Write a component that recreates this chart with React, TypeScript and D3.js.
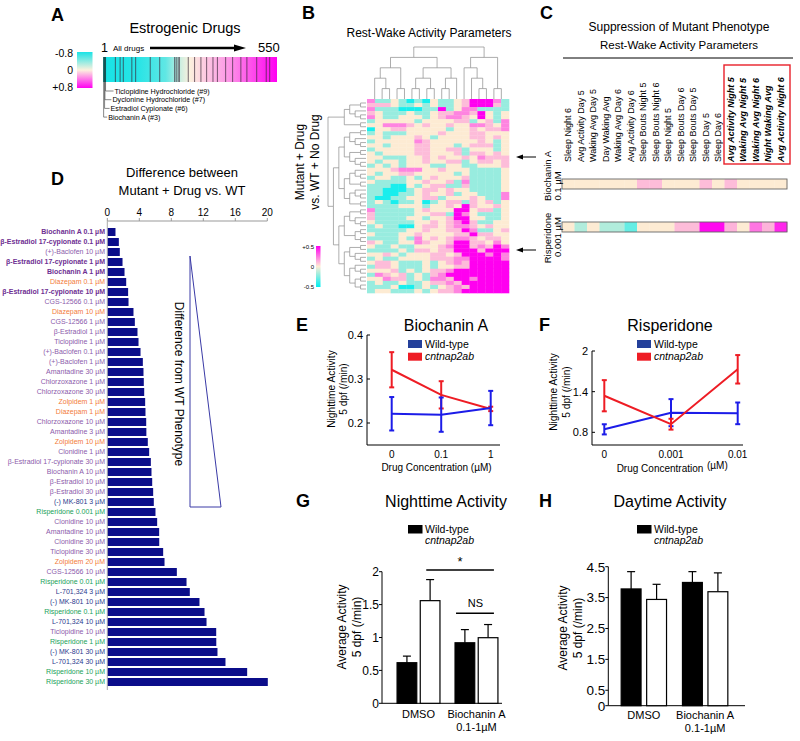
import React from "react";
import * as d3 from "d3";

const FONT = "'Liberation Sans', Arial, Helvetica, sans-serif";

// ---------------- Panel A data ----------------
const drugRanks = [3, 6, 7, 9, 40, 55, 65, 92, 104, 150, 180, 227, 232, 238, 242, 270, 290, 310, 328, 348, 362, 388, 410, 436, 455, 486, 516, 527];
const calloutNames = ["Ticlopidine Hydrochloride (#9)", "Dyclonine Hydrochloride (#7)", "Estradiol Cypionate (#6)", "Biochanin A (#3)"];
const calloutRanks = [9, 7, 6, 3];
const barStops = [0, 0.02, 0.2, 0.36, 0.45, 0.5, 0.58, 0.72, 0.86, 1];
const barStopValues = [-0.6, -0.8, -0.75, -0.55, -0.15, 0, 0.12, 0.3, 0.55, 0.8];

// ---------------- Panel B data ----------------
const heatRows = [
  "Pcc.cCcC.cc.pMMMPc",
  "ppp.cc.c.cc.pMMMpc",
  "PcccCCCccMc.PPcccc",
  "p.ccc.cc.ppPPpM.c.",
  "P.cc...c.pPPp.M.c.",
  "c.....c....ppc.pcP",
  "..PPPp.p..p..PPp.P",
  "C..pp.....c..p.ppP",
  "c.ccc....p...pp...",
  "..c...p.c....pp.p.",
  "c.....Pp......p.c.",
  "..c...pp...c.pppc.",
  "c.....pp..ppc...c.",
  ".c....pp...pcpp.p.",
  "..ccc..p.p..p.Pppp",
  ".c..c..p..ppc.pp.p",
  "c.c.c...cc..cc...p",
  "...pPPP..p...cccc.",
  ".c..pp.....c.cccc.",
  "c..cc.c.p...pcccc.",
  ".cccc..p..pcPcccc.",
  "cccCC.c.ppccpcccc.",
  "ccCCCc.pp.p..cccc.",
  "ccCCcc.p..pc..cccP",
  "cCCcc..ppc...p.ccP",
  "c.cCcc.Cc.ppcp.pc.",
  "cccc...c..p.Mp..p.",
  "Pccccc.p...MM.ppc.",
  "pccccc..ppcMP.ccc.",
  "pcccc..c..pMM..cc.",
  ".ccccc..p.pPMpcc..",
  "c.ccCC.pp.pPPp.p..",
  "ccccc..p..ppMPcc.p",
  ".ccc..p....ppMpp..",
  "cccc.cP.p.pPPp.pp.",
  "p.cc..Pp..pMMpp.P.",
  ".cc.cc...pPMMpPpMP",
  "cccc.cpp.ppMMMpMMM",
  "..p.c...pp.pMMMPMP",
  "c.cc....pppPPMMMMP",
  ".pp.ccc.c.pPpMMMMM",
  "cpp.ccc.c..ppMMMMM",
  "...pc.c.ppPMMMMMMM",
  "cPp.pc.cpPMMMMMMMM",
  "..Pppc.cPPpMMPMMMM",
  "c.cc.cc.ppPpMMMMMM",
  "ccc.CCc.c.pPpMMMMM",
  "c..ccc.c.ppPMMMMMM",
];
const heatLevels: Record<string, number> = { C: -0.45, c: -0.2, ".": 0, p: 0.1, P: 0.22, M: 0.5 };
const colTree = [[[[0, [1, 2]], [3, 4]], [[[5, 6], [7, 8]], [[9, 10], 11]]], [[12, [13, [14, 15]]], [16, 17]]];
const rowTree = [
  [[[0, 1], [2, [3, 4]]], [5, 6]],
  [
    [[[[7, 8], [9, [10, 11]]], [[12, 13], [14, [15, 16]]]], [[[17, [18, 19]], [20, 21]], [[22, [23, 24]], [25, 26]]]],
    [[[[27, 28], [29, [30, 31]]], [[32, 33], [34, 35]]], [[[36, 37], [38, [39, 40]]], [[41, [42, 43]], [[44, 45], [46, 47]]]]],
  ],
];

// ---------------- Panel C data ----------------
const paramLabels = [
  "Sleep Night 6", "Avg Activity Day 5", "Waking Avg Day 5", "Day Waking Avg", "Waking Avg Day 6", "Avg Activity Day 6",
  "Sleep Bouts Night 5", "Sleep Bouts Night 6", "Sleep Night 5", "Sleep Bouts Day 6", "Sleep Bouts Day 5", "Sleep Day 5",
  "Sleep Day 6", "Avg Activity Night 5", "Waking Avg Night 5", "Waking Avg Night 6", "Night Waking Avg", "Avg Activity Night 6",
];
const highlightedParams = 5;
const biochaninStrip = [0, 0, 0, 0, 0, 0, 0.1, 0.1, 0, 0, 0, 0.1, 0, 0.1, 0, 0, 0, 0];
const risperidoneStrip = [0, -0.15, 0, -0.15, -0.15, -0.3, 0, 0, 0, 0.1, 0.1, 0.48, 0.48, 0.12, 0, 0.25, 0.12, 0.42];

// ---------------- Panel D data ----------------
const drugLabels = [
  "Biochanin A 0.1 µM", "β-Estradiol 17-cypionate 0.1 µM", "(+)-Baclofen 10 µM", "β-Estradiol 17-cypionate 1 µM",
  "Biochanin A 1 µM", "Diazepam 0.1 µM", "β-Estradiol 17-cypionate 10 µM", "CGS-12566 0.1 µM", "Diazepam 10 µM",
  "CGS-12566 1 µM", "β-Estradiol 1 µM", "Ticlopidine 1 µM", "(+)-Baclofen 0.1 µM", "(+)-Baclofen 1 µM",
  "Amantadine 30 µM", "Chlorzoxazone 1 µM", "Chlorzoxazone 30 µM", "Zolpidem 1 µM", "Diazepam 1 µM",
  "Chlorzoxazone 10 µM", "Amantadine 3 µM", "Zolpidem 10 µM", "Clonidine 1 µM", "β-Estradiol 17-cypionate 30 µM",
  "Biochanin A 10 µM", "β-Estradiol 10 µM", "β-Estradiol 30 µM", "(-) MK-801 3 µM", "Risperidone 0.001 µM",
  "Clonidine 10 µM", "Amantadine 10 µM", "Clonidine 30 µM", "Ticlopidine 30 µM", "Zolpidem 20 µM",
  "CGS-12566 10 µM", "Risperidone 0.01 µM", "L-701,324 3 µM", "(-) MK-801 10 µM", "Risperidone 0.1 µM",
  "L-701,324 10 µM", "Ticlopidine 10 µM", "Risperidone 1 µM", "(-) MK-801 30 µM", "L-701,324 30 µM",
  "Risperidone 10 µM", "Risperidone 30 µM",
];
const drugValues = [
  0.96, 1.38, 1.5, 1.84, 2.09, 2.3, 2.54, 2.59, 3.21, 3.38, 3.71, 3.84, 4.09, 4.38, 4.46, 4.5, 4.55, 4.67, 4.71,
  4.8, 4.82, 5.0, 5.17, 5.38, 5.46, 5.55, 5.67, 5.75, 5.96, 6.17, 6.42, 6.43, 6.92, 7.09, 8.63, 9.84, 10.25,
  11.46, 12.09, 12.34, 13.55, 13.56, 13.71, 14.71, 17.42, 20.0,
];
const drugGroups = [
  "pb", "pb", "p", "pb", "pb", "o", "pb", "p", "o", "p", "p", "p", "p", "p", "p", "p", "p", "o", "o", "p", "p", "o",
  "p", "p", "p", "p", "p", "b", "g", "p", "p", "p", "p", "o", "p", "g", "b", "b", "g", "b", "p", "g", "b", "b", "g", "g",
];
const dTicks = [0, 4, 8, 12, 16, 20];

// ---------------- Panel E / F data ----------------
const eConc = ["0", "0.1", "1"];
const eWT = [0.221, 0.219, 0.234];
const eWTerr = [0.038, 0.039, 0.039];
const eMut = [0.321, 0.264, 0.232];
const eMutErr = [0.04, 0.031, 0.005];
const eTicks = [0.2, 0.3, 0.4];

const fConc = ["0", "0.001", "0.01"];
const fWT = [0.844, 1.09, 1.08];
const fWTerr = [0.075, 0.2, 0.16];
const fMut = [1.34, 0.92, 1.73];
const fMutErr = [0.23, 0.08, 0.21];
const fTicks = [0.8, 1.4, 2];

// ---------------- Panel G / H data ----------------
const treatments = ["DMSO", "Biochanin A"];
const genotypes = ["Wild-type", "cntnap2ab"];
const gNight = [[0.617, 1.56], [0.92, 0.997]];
const gNightErr = [[0.1, 0.32], [0.2, 0.2]];
const gTicks = [0, 0.5, 1, 1.5, 2];
const hDay = [[3.78, 3.44], [3.99, 3.69]];
const hDayErr = [[0.56, 0.49], [0.35, 0.61]];
const hTicks = [0, 0.5, 1.5, 2.5, 3.5, 4.5];

const purpleBold = "#6e2f92";
const groupColor: Record<string, string> = { pb: purpleBold, p: "#8c5bab", o: "#f37b3a", g: "#22a25a", b: "#2b3a8e" };
const BLUE = "#1c1ce8";
const RED = "#ee1c24";
const LEG_BLUE = "#24409a";

function PanelLabel({ x, y, t }: { x: number; y: number; t: string }) {
  return (
    <text x={x} y={y} fontSize={18} fontWeight="bold" fontFamily={FONT}>
      {t}
    </text>
  );
}

function RotLabel({ x, y, t, size, anchor = "middle", rot = -90, style = {} as any }: any) {
  return (
    <text transform={`translate(${x},${y}) rotate(${rot})`} textAnchor={anchor} dy="0.35em" fontSize={size} fontFamily={FONT} {...style}>
      {t}
    </text>
  );
}

function LinePanel(props: any) {
  const { conc, wt, wtErr, mut, mutErr, ticks, yDomain, yRange, xRange, axisX, axisRight, tickFmt, mutFirst } = props;
  const y = d3.scaleLinear().domain(yDomain).range(yRange);
  const x = d3.scalePoint<string>().domain(conc).range(xRange);
  const line = d3.line<number>().x((_, i) => x(conc[i]) as number).y((d) => y(d));
  const series = [
    { v: wt, e: wtErr, c: BLUE },
    { v: mut, e: mutErr, c: RED },
  ];
  const order = mutFirst ? [series[1], series[0]] : series;
  return (
    <g>
      <line x1={axisX} x2={axisX} y1={y(yDomain[1])} y2={yRange[0]} stroke="#000" strokeWidth={1} />
      <line x1={axisX} x2={axisRight} y1={yRange[0]} y2={yRange[0]} stroke="#000" strokeWidth={1} />
      {ticks.map((t: number) => (
        <g key={t}>
          <line x1={axisX} x2={axisX + 3} y1={y(t)} y2={y(t)} stroke="#000" />
          <text x={axisX - 4} y={y(t)} dy="0.35em" textAnchor="end" fontSize={11} fontFamily={FONT}>
            {tickFmt(t)}
          </text>
        </g>
      ))}
      {conc.map((c: string) => (
        <text key={c} x={x(c)} y={yRange[0] + 13} textAnchor="middle" fontSize={10} fontFamily={FONT}>
          {c}
        </text>
      ))}
      {order.map((s, si) => (
        <g key={si}>
          <path d={line(s.v) as string} fill="none" stroke={s.c} strokeWidth={2} />
          {s.v.map((v: number, i: number) => {
            const cx = x(conc[i]) as number;
            return (
              <g key={i} stroke={s.c} strokeWidth={2}>
                <line x1={cx} x2={cx} y1={y(v - s.e[i])} y2={y(v + s.e[i])} />
                <line x1={cx - 2.5} x2={cx + 2.5} y1={y(v - s.e[i])} y2={y(v - s.e[i])} />
                <line x1={cx - 2.5} x2={cx + 2.5} y1={y(v + s.e[i])} y2={y(v + s.e[i])} />
              </g>
            );
          })}
        </g>
      ))}
    </g>
  );
}

function BarPanel(props: any) {
  const { values, errs, ticks, yDomain, yRange, axisX, axisRight, bandRange, pInner, pOuter, subPad, tickSize, labelY } = props;
  const y = d3.scaleLinear().domain(yDomain).range(yRange);
  const xg = d3.scaleBand<string>().domain(treatments).range(bandRange).paddingInner(pInner).paddingOuter(pOuter);
  const xs = d3.scaleBand<string>().domain(genotypes).range([0, xg.bandwidth()]).paddingInner(subPad);
  return (
    <g>
      <line x1={axisX} x2={axisX} y1={y(yDomain[1])} y2={yRange[0]} stroke="#000" />
      <line x1={axisX} x2={axisRight} y1={yRange[0]} y2={yRange[0]} stroke="#000" />
      {ticks.map((t: number) => (
        <g key={t}>
          <line x1={axisX - 3} x2={axisX} y1={y(t)} y2={y(t)} stroke="#000" />
          <text x={axisX - 3} y={y(t)} dy="0.36em" textAnchor="end" fontSize={tickSize} fontFamily={FONT}>
            {t}
          </text>
        </g>
      ))}
      {treatments.map((tr, ti) =>
        genotypes.map((g, gi) => {
          const bx = (xg(tr) as number) + (xs(g) as number);
          const bw = xs.bandwidth();
          const v = values[ti][gi];
          const e = errs[ti][gi];
          const cx = bx + bw / 2;
          return (
            <g key={tr + g}>
              <line x1={cx} x2={cx} y1={y(v)} y2={y(v + e)} stroke="#000" strokeWidth={1.2} />
              <line x1={cx - 4} x2={cx + 4} y1={y(v + e)} y2={y(v + e)} stroke="#000" strokeWidth={1.2} />
              <rect x={bx} y={y(v)} width={bw} height={yRange[0] - y(v)} fill={gi === 0 ? "#000" : "#fff"} stroke="#000" strokeWidth={1.2} />
            </g>
          );
        })
      )}
      <text x={(xg("DMSO") as number) + xg.bandwidth() / 2} y={labelY} textAnchor="middle" fontSize={11} fontFamily={FONT}>
        DMSO
      </text>
      <text x={(xg("Biochanin A") as number) + xg.bandwidth() / 2} y={labelY} textAnchor="middle" fontSize={11} fontFamily={FONT}>
        Biochanin A
      </text>
      <text x={(xg("Biochanin A") as number) + xg.bandwidth() / 2} y={labelY + 13} textAnchor="middle" fontSize={11} fontFamily={FONT}>
        0.1-1µM
      </text>
      {props.children ? props.children(xg, xs, y) : null}
    </g>
  );
}

function BarLegend({ x, y }: { x: number; y: number }) {
  return (
    <g fontFamily={FONT} fontSize={10.5}>
      <rect x={x} y={y} width={14.5} height={8.5} fill="#000" />
      <text x={x + 17} y={y + 7.5}>Wild-type</text>
      <text x={x + 17} y={y + 19} fontStyle="italic">cntnap2ab</text>
    </g>
  );
}

function LineLegend({ x, y }: { x: number; y: number }) {
  return (
    <g fontFamily={FONT} fontSize={10.5}>
      <rect x={x} y={y} width={14} height={8} fill={LEG_BLUE} />
      <text x={x + 17} y={y + 7.5}>Wild-type</text>
      <rect x={x} y={y + 12.7} width={14} height={8} fill={RED} />
      <text x={x + 17} y={y + 20.2} fontStyle="italic">cntnap2ab</text>
    </g>
  );
}

export default function App() {
  // ---- A ----
  const aColor = d3.scaleLinear<string>().domain([-0.8, 0, 0.8]).range(["#19e3e6", "#fcf1de", "#ff00f2"]).clamp(true);
  const aX = d3.scaleLinear().domain([1, 550]).range([103, 277]);

  // ---- B ----
  const hColor = d3.scaleLinear<string>().domain([-0.5, 0, 0.5]).range(["#00eef0", "#fdebd3", "#ff00f0"]).clamp(true);
  const nCols = 18;
  const nRows = heatRows.length;
  const hx = d3.scaleBand<number>().domain(d3.range(nCols)).range([367, 509]);
  const hy = d3.scaleBand<number>().domain(d3.range(nRows)).range([99, 293]);
  const cw = hx.bandwidth();
  const rh = hy.bandwidth();
  const childrenOf = (d: any) => (Array.isArray(d) ? d : null);
  const colRoot = d3.hierarchy<any>(colTree, childrenOf);
  d3.cluster<any>().size([(nCols - 1) * cw, 52]).separation(() => 1)(colRoot);
  const rowRoot = d3.hierarchy<any>(rowTree, childrenOf);
  d3.cluster<any>().size([(nRows - 1) * rh, 38]).separation(() => 1)(rowRoot);
  const colLinks: string[] = [];
  colRoot.each((n: any) => {
    if (n.children)
      n.children.forEach((c: any) => {
        const cx = 367 + cw / 2 + c.x, cy = 47 + c.y, px = 367 + cw / 2 + n.x, py = 47 + n.y;
        colLinks.push(`M${cx},${cy}V${py}H${px}`);
      });
  });
  const rowLinks: string[] = [];
  rowRoot.each((n: any) => {
    if (n.children)
      n.children.forEach((c: any) => {
        const cx = 328 + c.y, cy = 99 + rh / 2 + c.x, px = 328 + n.y, py = 99 + rh / 2 + n.x;
        rowLinks.push(`M${cx},${cy}H${px}V${py}`);
      });
  });

  // ---- C ----
  const cx = d3.scaleBand<number>().domain(d3.range(nCols)).range([562, 787]);

  // ---- D ----
  const dx = d3.scaleLinear().domain([0, 20]).range([107.3, 267.3]);
  const dy = d3.scaleBand<number>().domain(d3.range(drugLabels.length)).range([227, 687]).paddingInner(0.2).paddingOuter(0.1);

  return (
    <svg width={800} height={741} style={{ position: "absolute", left: 0, top: 0, background: "#fff" }} fontFamily={FONT}>
      <defs>
        <linearGradient id="aBar" x1="0" x2="1" y1="0" y2="0">
          {barStops.map((s, i) => (
            <stop key={i} offset={s} stopColor={aColor(barStopValues[i])} />
          ))}
        </linearGradient>
        <linearGradient id="aLeg" x1="0" x2="0" y1="0" y2="1">
          {[-0.8, -0.4, 0, 0.4, 0.8].map((v, i) => (
            <stop key={i} offset={i / 4} stopColor={aColor(v)} />
          ))}
        </linearGradient>
        <linearGradient id="bLeg" x1="0" x2="0" y1="0" y2="1">
          {[0.5, 0.25, 0, -0.25, -0.5].map((v, i) => (
            <stop key={i} offset={i / 4} stopColor={hColor(v)} />
          ))}
        </linearGradient>
      </defs>
      <rect width={800} height={741} fill="#fff" />

      {/* ================= A ================= */}
      <PanelLabel x={51} y={21} t="A" />
      <text x={185} y={33} textAnchor="middle" fontSize={14.5}>Estrogenic Drugs</text>
      <rect x={77} y={52} width={15.5} height={36} fill="url(#aLeg)" />
      <text x={73} y={53} dy="0.35em" textAnchor="end" fontSize={10.5}>-0.8</text>
      <text x={73} y={70} dy="0.35em" textAnchor="end" fontSize={10.5}>0</text>
      <text x={73} y={87} dy="0.35em" textAnchor="end" fontSize={10.5}>+0.8</text>
      <text x={101} y={52} fontSize={12.5}>1</text>
      <text x={113} y={51} fontSize={8}>All drugs</text>
      <line x1={150} x2={236} y1={48} y2={48} stroke="#000" strokeWidth={2.5} />
      <path d="M234,44.5L246,48L234,51.5z" fill="#000" />
      <text x={258} y={52} fontSize={13}>550</text>
      <rect x={aX(1)} y={57} width={aX(550) - aX(1)} height={25} fill="url(#aBar)" />
      {drugRanks.map((r, i) => (
        <line key={i} x1={aX(r)} x2={aX(r)} y1={57} y2={82} stroke={r < 10 ? "#134444" : "#3a2a3a"} strokeOpacity={r < 10 ? 0.95 : 0.7} strokeWidth={r < 10 ? 0.9 : 1} />
      ))}
      {calloutNames.map((nm, i) => {
        const lx = aX(calloutRanks[i]);
        const ly = 91 + i * 8.7;
        return (
          <g key={nm}>
            <path d={`M${lx},82V${ly}H${lx + 8 - i * 1.5}`} fill="none" stroke="#555" strokeWidth={0.7} />
            <text x={lx + 9 - i * 1.5} y={ly} dy="0.35em" fontSize={7.2}>{nm}</text>
          </g>
        );
      })}

      {/* ================= B ================= */}
      <PanelLabel x={302} y={19} t="B" />
      <text x={429} y={37} textAnchor="middle" fontSize={12}>Rest-Wake Activity Parameters</text>
      {heatRows.map((row, ri) =>
        row.split("").map((ch, ci) => (
          <rect key={ri + "-" + ci} x={hx(ci)} y={hy(ri)} width={cw + 0.3} height={rh + 0.3} fill={hColor(heatLevels[ch])} />
        ))
      )}
      <g fill="none" stroke="#8a8a8a" strokeWidth={0.7}>
        {colLinks.map((d, i) => <path key={i} d={d} />)}
        {rowLinks.map((d, i) => <path key={"r" + i} d={d} />)}
      </g>
      <RotLabel x={300} y={162} t="Mutant + Drug" size={12} />
      <RotLabel x={315} y={162} t="vs. WT + No Drug" size={12} />
      <rect x={316} y={246} width={4.5} height={41} fill="url(#bLeg)" />
      <text x={314} y={247} dy="0.35em" textAnchor="end" fontSize={6}>+0.5</text>
      <text x={314} y={267} dy="0.35em" textAnchor="end" fontSize={6}>0</text>
      <text x={314} y={287} dy="0.35em" textAnchor="end" fontSize={6}>-0.5</text>
      <line x1={536} x2={522} y1={157} y2={157} stroke="#000" strokeWidth={1} />
      <path d="M516,157L523,154.5L523,159.5z" fill="#000" />
      <line x1={536} x2={522} y1={250} y2={250} stroke="#000" strokeWidth={1} />
      <path d="M516,250L523,247.5L523,252.5z" fill="#000" />

      {/* ================= C ================= */}
      <PanelLabel x={540} y={19} t="C" />
      <text x={679} y={31} textAnchor="middle" fontSize={12}>Suppression of Mutant Phenotype</text>
      <text x={679} y={49} textAnchor="middle" fontSize={11.5}>Rest-Wake Activity Parameters</text>
      <line x1={563} x2={793} y1={58} y2={58} stroke="#000" strokeWidth={1} />
      {paramLabels.map((l, i) => {
        const hi = i >= nCols - highlightedParams;
        return (
          <text
            key={l}
            transform={`translate(${(cx(i) as number) + cx.bandwidth() / 2},162) rotate(-90)`}
            dy="0.35em"
            fontSize={9}
            fontWeight={hi ? "bold" : "normal"}
            fontStyle={hi ? "italic" : "normal"}
          >
            {l}
          </text>
        );
      })}
      <rect x={724} y={65} width={66} height={99} fill="none" stroke="#e8202a" strokeWidth={1.4} />
      {biochaninStrip.map((v, i) => (
        <rect key={"bs" + i} x={cx(i)} y={179} width={cx.bandwidth() + 0.3} height={10} fill={hColor(v)} />
      ))}
      <rect x={562} y={179} width={225} height={10} fill="none" stroke="#666" strokeWidth={0.9} />
      {risperidoneStrip.map((v, i) => (
        <rect key={"rs" + i} x={cx(i)} y={222} width={cx.bandwidth() + 0.3} height={10} fill={hColor(v)} />
      ))}
      <rect x={562} y={222} width={225} height={10} fill="none" stroke="#666" strokeWidth={0.9} />
      <RotLabel x={548} y={176} t="Biochanin A" size={9.5} />
      <RotLabel x={558} y={186} t="0.1 µM" size={9.5} />
      <RotLabel x={548} y={238} t="Risperidone" size={9.5} />
      <RotLabel x={558} y={237} t="0.001 µM" size={9.5} />

      {/* ================= D ================= */}
      <PanelLabel x={51} y={185} t="D" />
      <text x={182} y={177} textAnchor="middle" fontSize={13}>Difference between</text>
      <text x={182} y={195} textAnchor="middle" fontSize={13}>Mutant + Drug vs. WT</text>
      <line x1={dx(0)} x2={dx(20)} y1={221} y2={221} stroke="#999" strokeWidth={1} />
      <line x1={dx(0)} x2={dx(0)} y1={221} y2={690} stroke="#aaa" strokeWidth={1} />
      {dTicks.map((t) => (
        <g key={t}>
          <line x1={dx(t)} x2={dx(t)} y1={218} y2={221} stroke="#999" />
          <text x={dx(t)} y={216} textAnchor="middle" fontSize={10}>{t}</text>
        </g>
      ))}
      {drugValues.map((v, i) => (
        <rect key={i} x={dx(0) + 0.5} y={dy(i)} width={dx(v) - dx(0)} height={dy.bandwidth()} fill="#0b0d8a" />
      ))}
      {drugLabels.map((l, i) => (
        <text
          key={l}
          x={105}
          y={(dy(i) as number) + dy.bandwidth() / 2}
          dy="0.35em"
          textAnchor="end"
          fontSize={7}
          fontWeight={drugGroups[i] === "pb" ? "bold" : "normal"}
          fill={groupColor[drugGroups[i]]}
        >
          {l}
        </text>
      ))}
      <path d="M190,256L190,507L221,507Z" fill="#fff" stroke="#3a3aa6" strokeWidth={1} />
      <RotLabel x={179} y={384} t="Difference from WT Phenotype" size={12} rot={90} />

      {/* ================= E ================= */}
      <PanelLabel x={296} y={331} t="E" />
      <text x={446} y={331} textAnchor="middle" fontSize={16}>Biochanin A</text>
      <LinePanel
        conc={eConc} wt={eWT} wtErr={eWTerr} mut={eMut} mutErr={eMutErr} ticks={eTicks}
        yDomain={[0.15, 0.4]} yRange={[445, 335]} xRange={[391.7, 490.7]} axisX={367} axisRight={500}
        tickFmt={(t: number) => t.toFixed(1)} mutFirst={true}
      />
      <LineLegend x={408} y={340} />
      <RotLabel x={331} y={389} t="Nighttime Activity" size={10.2} />
      <RotLabel x={343.5} y={389} t="5 dpf (/min)" size={10.2} />
      <text x={436.5} y={471} textAnchor="middle" fontSize={10}>Drug Concentration (µM)</text>

      {/* ================= F ================= */}
      <PanelLabel x={539} y={331} t="F" />
      <text x={670} y={331} textAnchor="middle" fontSize={16}>Risperidone</text>
      <LinePanel
        conc={fConc} wt={fWT} wtErr={fWTerr} mut={fMut} mutErr={fMutErr} ticks={fTicks}
        yDomain={[0.613, 2]} yRange={[445, 351]} xRange={[604.3, 737.7]} axisX={592} axisRight={743}
        tickFmt={(t: number) => String(t)} mutFirst={false}
      />
      <LineLegend x={637} y={340} />
      <RotLabel x={553} y={392} t="Nighttime Activity" size={10.2} />
      <RotLabel x={566} y={392} t="5 dpf (/min)" size={10.2} />
      <text x={660} y={471.5} textAnchor="middle" fontSize={10}>Drug Concentration</text>
      <text x={707} y={468.5} fontSize={10}>(µM)</text>

      {/* ================= G ================= */}
      <PanelLabel x={296} y={507} t="G" />
      <text x={446} y={507} textAnchor="middle" fontSize={16}>Nighttime Activity</text>
      <BarLegend x={408} y={525} />
      <BarPanel
        values={gNight} errs={gNightErr} ticks={gTicks} yDomain={[0, 2]} yRange={[703.3, 571.7]}
        axisX={382} axisRight={502} bandRange={[382, 513]} pInner={0.26} pOuter={0.26} subPad={0.15}
        tickSize={12} labelY={718}
      >
        {(xg: any, xs: any, y: any) => {
          const dCnt = xg("DMSO") + xs("cntnap2ab");
          const bWt = xg("Biochanin A") + xs("Wild-type");
          const bCnt = xg("Biochanin A") + xs("cntnap2ab");
          const bw = xs.bandwidth();
          return (
            <g>
              <line x1={dCnt + 6} x2={bCnt + bw - 4} y1={570} y2={570} stroke="#000" strokeWidth={1.6} />
              <text x={(dCnt + bCnt + bw) / 2 + 1} y={566} textAnchor="middle" fontSize={13}>*</text>
              <line x1={bWt + 1} x2={bCnt + bw - 4} y1={613.3} y2={613.3} stroke="#000" strokeWidth={1.6} />
              <text x={(bWt + bCnt + bw) / 2 - 1} y={607} textAnchor="middle" fontSize={11}>NS</text>
            </g>
          );
        }}
      </BarPanel>
      <RotLabel x={341.5} y={627} t="Average Activity" size={12} />
      <RotLabel x={356.5} y={627} t="5 dpf (/min)" size={12} />

      {/* ================= H ================= */}
      <PanelLabel x={539} y={507} t="H" />
      <text x={670} y={507} textAnchor="middle" fontSize={16}>Daytime Activity</text>
      <BarLegend x={637} y={525} />
      <BarPanel
        values={hDay} errs={hDayErr} ticks={hTicks} yDomain={[0, 4.5]} yRange={[705.7, 566.7]}
        axisX={608.3} axisRight={745} bandRange={[608.3, 740.7]} pInner={0.26} pOuter={0.21} subPad={0.22}
        tickSize={13.5} labelY={719}
      />
      <RotLabel x={563} y={628} t="Average Activity" size={12} />
      <RotLabel x={578} y={628} t="5 dpf (/min)" size={12} />
    </svg>
  );
}
